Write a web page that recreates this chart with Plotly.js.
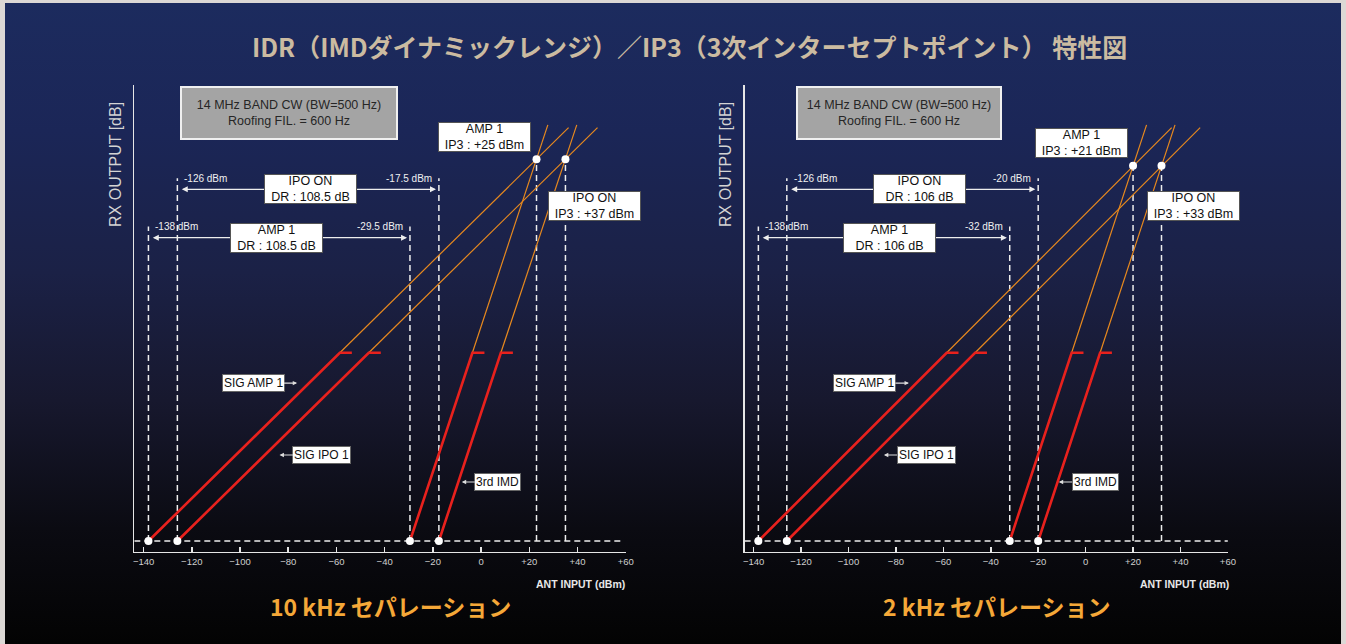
<!DOCTYPE html>
<html><head><meta charset="utf-8">
<script src="https://cdn.plot.ly/plotly-3.0.1.min.js"></script>
<style>
html,body{margin:0;padding:0;background:#dcd8d5;width:1346px;height:644px;overflow:hidden}
#bg{position:absolute;left:5px;top:3px;width:1336px;height:641px;background:linear-gradient(180deg,#1c2b5e 0%,#1b2657 20%,#1b2146 42%,#17182e 62%,#0b0b12 82%,#030303 100%)}
#chart{position:absolute;left:0;top:0;width:1346px;height:644px}
</style></head>
<body><div id="bg"></div><div id="chart"></div>
<script>
// ---------- shared data ----------
const xTickVals = [-140,-120,-100,-80,-60,-40,-20,0,20,40,60];
const xTickText = ['\u2212140','\u2212120','\u2212100','\u221280','\u221260','\u221240','\u221220','0','+20','+40','+60'];
const mainTitle = 'IDR（IMDダイナミックレンジ）／IP3（3次インターセプトポイント） 特性図';
const yTitle = 'RX OUTPUT [dB]';
const xTitle = 'ANT INPUT (dBm)';
const conditionText = '14 MHz BAND CW (BW=500 Hz)<br>Roofing FIL. = 600 Hz';
const redEndY = 79.4;      // output level where red (measured) lines end
const sigTopY = 174.3;     // extrapolated signal lines top
const imdTopY = 175.5;     // extrapolated IMD lines top
const drRowY = [127.9, 148.3];   // AMP 1 row, IPO ON row
const drLineTopY = [132.6, 153]; // dashed guide tops
const sigLabelText = ['SIG AMP 1', 'SIG IPO 1', '3rd IMD'];
const sigLabelY = [66.6, 36.3, 24.9];

// ---------- 10 kHz separation ----------
const k10_subtitle = '10 kHz セパレーション';
const k10_floorX = [-138, -126, -29.5, -17.5];   // SIG AMP1, SIG IPO1, IMD AMP1, IMD IPO
const k10_redEndX = [-58.6, -46.6, -3.6, 8.2];
const k10_topX = [36.3, 48.3, 27.7, 39.7];
const k10_ip3X = [23, 35];
const k10_ip3Y = 161;
const k10_drLeftText = ['-138 dBm', '-126 dBm'];
const k10_drRightText = ['-29.5 dBm', '-17.5 dBm'];
const k10_drBoxText = ['AMP 1<br>DR : 108.5 dB', 'IPO ON<br>DR : 108.5 dB'];
const k10_drBoxX = [-84.7, -70.7];
const k10_ip3BoxText = ['AMP 1<br>IP3 : +25 dBm', 'IPO ON<br>IP3 : +37 dBm'];
const k10_ip3BoxX = [1.45, 47.1];
const k10_ip3BoxY = [170.2, 141.1];
const k10_sigLabelX = [-94.6, -66, 6.97];
const k10_sigTipX = [-76.3, -83.6, -8];
const k10_condX = -79.8;

// ---------- 2 kHz separation ----------
const k2_subtitle = '2 kHz セパレーション';
const k2_floorX = [-138, -126, -32, -20];
const k2_redEndX = [-58.6, -46.6, -5.9, 6.1];
const k2_topX = [36.3, 48.3, 25.7, 37.7];
const k2_ip3X = [20, 32];
const k2_ip3Y = 158.3;
const k2_drLeftText = ['-138 dBm', '-126 dBm'];
const k2_drRightText = ['-32 dBm', '-20 dBm'];
const k2_drBoxText = ['AMP 1<br>DR : 106 dB', 'IPO ON<br>DR : 106 dB'];
const k2_drBoxX = [-82.7, -69.9];
const k2_ip3BoxText = ['AMP 1<br>IP3 : +21 dBm', 'IPO ON<br>IP3 : +33 dBm'];
const k2_ip3BoxX = [-1.8, 45.5];
const k2_ip3BoxY = [167.8, 141.1];
const k2_sigLabelX = [-93.3, -67.3, 4];
const k2_sigTipX = [-74.5, -85.05, -11.3];
const k2_condX = -78.8;

// ---------- styles ----------
const RED = '#e8211d', ORANGE = '#e8891e', WHITE = '#eeeeee';
const LAB = 'Liberation Sans, Arial, sans-serif';
const CJK = 'Noto Sans CJK JP, sans-serif';
const DASH = '6px,4px';

const traces = [];
const annotations = [];

function buildPanel(xa, ya, xr, d) {
  const ax = {xaxis: xa, yaxis: ya, hoverinfo: 'skip', showlegend: false};
  // noise floor dashed line
  traces.push(Object.assign({x: [xr[0], xr[1]], y: [0, 0], mode: 'lines',
    line: {color: WHITE, width: 1.5, dash: DASH}}, ax));
  // vertical dashed guides for DR
  for (let i = 0; i < 4; i++) {
    traces.push(Object.assign({x: [d.floorX[i], d.floorX[i]], y: [0, drLineTopY[i % 2]], mode: 'lines',
      line: {color: WHITE, width: 1.5, dash: DASH}}, ax));
  }
  // vertical dashed guides for IP3
  for (let i = 0; i < 2; i++) {
    traces.push(Object.assign({x: [d.ip3X[i], d.ip3X[i]], y: [0, d.ip3Y], mode: 'lines',
      line: {color: WHITE, width: 1.5, dash: DASH}}, ax));
  }
  // orange extrapolations
  for (let i = 0; i < 4; i++) {
    traces.push(Object.assign({x: [d.redEndX[i], d.topX[i]], y: [redEndY, i < 2 ? sigTopY : imdTopY], mode: 'lines',
      line: {color: ORANGE, width: 1.2}}, ax));
  }
  // red measured lines + end ticks
  for (let i = 0; i < 4; i++) {
    traces.push(Object.assign({x: [d.floorX[i], d.redEndX[i], d.redEndX[i] + 5], y: [0, redEndY, redEndY], mode: 'lines',
      line: {color: RED, width: 2.6}}, ax));
  }
  // dots
  traces.push(Object.assign({x: d.floorX.concat(d.ip3X), y: [0, 0, 0, 0, d.ip3Y, d.ip3Y], mode: 'markers',
    marker: {color: '#ffffff', size: 8}}, ax));

  const ref = {xref: xa, yref: ya};
  const r = (o) => annotations.push(Object.assign({xanchor: 'center', yanchor: 'middle'}, ref, o));
  // condition box
  r({x: d.condX, y: 180.6, text: conditionText, showarrow: false, bgcolor: '#a4a4a4', bordercolor: '#f0f0f0',
     borderwidth: 2, borderpad: 3, width: d.condW, height: 44, font: {family: LAB, size: 12.5, color: '#262626'}});
  // DR dimension arrows
  for (let i = 0; i < 2; i++) {
    const L = d.floorX[i], R = d.floorX[i + 2];
    r({x: R - 1.2, y: drRowY[i], ax: L + 1.2, ay: drRowY[i], axref: ref.xref, ayref: ref.yref, text: '',
       showarrow: true, arrowside: 'end+start', arrowhead: 2, arrowsize: 1, arrowwidth: 1.2, arrowcolor: WHITE});
    r({x: L, y: drRowY[i], yshift: 11, xshift: 5, xanchor: 'left', text: d.drLeftText[i], showarrow: false,
       font: {family: LAB, size: 10, color: '#f0f0f0'}});
    r({x: R, y: drRowY[i], yshift: 11, xshift: -5, xanchor: 'right', text: d.drRightText[i], showarrow: false,
       font: {family: LAB, size: 10, color: '#f0f0f0'}});
    r({x: d.drBoxX[i], y: drRowY[i], text: d.drBoxText[i], showarrow: false, bgcolor: '#ffffff',
       bordercolor: '#555', borderwidth: 1, borderpad: 0, width: 91, height: 28, font: {family: LAB, size: 12.5, color: '#111'}});
  }
  // IP3 boxes
  for (let i = 0; i < 2; i++) {
    r({x: d.ip3BoxX[i], y: d.ip3BoxY[i], text: d.ip3BoxText[i], showarrow: false, bgcolor: '#ffffff',
       bordercolor: '#555', borderwidth: 1, borderpad: 0, width: 91, height: 28, font: {family: LAB, size: 12.5, color: '#111'}});
  }
  // series labels with small arrows
  for (let i = 0; i < 3; i++) {
    r({x: d.sigTipX[i], y: sigLabelY[i], ax: d.sigLabelX[i], ay: sigLabelY[i], axref: ref.xref, ayref: ref.yref,
       text: sigLabelText[i], showarrow: true, arrowhead: 2, arrowsize: 0.8, arrowwidth: 1.1, arrowcolor: '#dddddd',
       bgcolor: '#ffffff', bordercolor: '#666', borderwidth: 1, borderpad: 1, font: {family: LAB, size: 12, color: '#111'}});
  }
}

buildPanel('x', 'y', [-143.86, 58.2], {
  floorX: k10_floorX, redEndX: k10_redEndX, topX: k10_topX, ip3X: k10_ip3X, ip3Y: k10_ip3Y,
  drLeftText: k10_drLeftText, drRightText: k10_drRightText, drBoxText: k10_drBoxText, drBoxX: k10_drBoxX,
  ip3BoxText: k10_ip3BoxText, ip3BoxX: k10_ip3BoxX, ip3BoxY: k10_ip3BoxY,
  sigLabelX: k10_sigLabelX, sigTipX: k10_sigTipX, condX: k10_condX, condW: 208});
buildPanel('x2', 'y2', [-143.8, 60], {
  floorX: k2_floorX, redEndX: k2_redEndX, topX: k2_topX, ip3X: k2_ip3X, ip3Y: k2_ip3Y,
  drLeftText: k2_drLeftText, drRightText: k2_drRightText, drBoxText: k2_drBoxText, drBoxX: k2_drBoxX,
  ip3BoxText: k2_ip3BoxText, ip3BoxX: k2_ip3BoxX, ip3BoxY: k2_ip3BoxY,
  sigLabelX: k2_sigLabelX, sigTipX: k2_sigTipX, condX: k2_condX, condW: 196});

// page-level texts
const P = (o) => annotations.push(Object.assign({xref: 'paper', yref: 'paper', xanchor: 'center', yanchor: 'middle', showarrow: false}, o));
P({x: 0.5126, y: 0.9293, text: '<b>' + mainTitle + '</b>', font: {family: CJK, size: 25, color: '#cbbba1'}});
[0.0854, 0.5386].forEach(function (xp) {
  P({x: xp, y: 0.7453, text: yTitle, textangle: -90, font: {family: LAB, size: 16, color: '#d4d4d4'}});
});
P({x: 0.2899, y: 0.059, text: '<b>' + k10_subtitle + '</b>', font: {family: CJK, size: 23, color: '#f5a838'}});
P({x: 0.7409, y: 0.059, text: '<b>' + k2_subtitle + '</b>', font: {family: CJK, size: 23, color: '#f5a838'}});
P({x: 0.4657, xanchor: 'right', y: 0.0932, text: '<b>' + xTitle + '</b>', font: {family: LAB, size: 10.5, color: '#e8e8e8'}});
P({x: 0.9149, xanchor: 'right', y: 0.0932, text: '<b>' + xTitle + '</b>', font: {family: LAB, size: 10.5, color: '#e8e8e8'}});

function xAxis(domain, range, anchor) {
  return {domain: domain, range: range, anchor: anchor, showline: true, linecolor: '#e6e6e6', linewidth: 1.6,
    ticks: 'inside', ticklen: 5, tickwidth: 1.5, tickcolor: '#e6e6e6', tickvals: xTickVals, ticktext: xTickText,
    tickfont: {family: LAB, size: 9.5, color: '#cfcfcf'}, showgrid: false, zeroline: false, fixedrange: true};
}
function yAxis(anchor) {
  return {domain: [0.14332, 0.86801], range: [-4.51, 192.3], anchor: anchor, showline: true, linecolor: '#e6e6e6',
    linewidth: 1.6, showticklabels: false, ticks: '', showgrid: false, zeroline: false, fixedrange: true};
}

const layout = {
  width: 1346, height: 644, margin: {l: 0, r: 0, t: 0, b: 0},
  paper_bgcolor: 'rgba(0,0,0,0)', plot_bgcolor: 'rgba(0,0,0,0)',
  showlegend: false,
  xaxis: xAxis([0.09978, 0.46486], [-143.86, 60], 'y'),
  yaxis: yAxis('x'),
  xaxis2: xAxis([0.55320, 0.91226], [-143.8, 60], 'y2'),
  yaxis2: yAxis('x2'),
  annotations: annotations
};
Plotly.newPlot('chart', traces, layout, {displayModeBar: false, staticPlot: true});
</script>
</body></html>
